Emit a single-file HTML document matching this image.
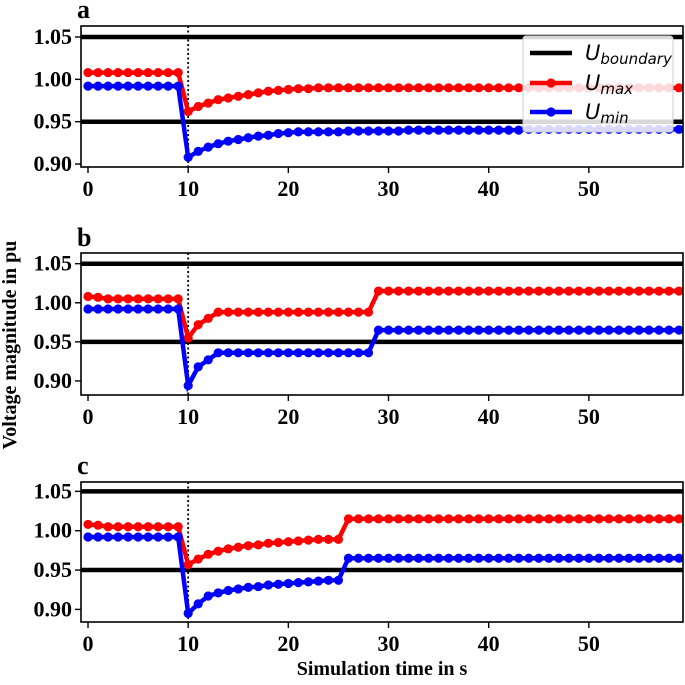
<!DOCTYPE html>
<html><head><meta charset="utf-8"><style>
body{margin:0;background:#fff}
svg text{font-family:"Liberation Serif",serif;font-weight:bold}
</style></head><body>
<svg id="chart" width="685" height="680" viewBox="0 0 685 680" xmlns="http://www.w3.org/2000/svg">
<text x="0" y="0" font-size="20" text-anchor="middle" transform="translate(16,345) rotate(-90)">Voltage magnitude in pu</text>
<text x="382" y="675" font-size="20" text-anchor="middle">Simulation time in s</text>
</svg>
<script>
const xTicks=[0,10,20,30,40,50];
const yTicks=[0.90,0.95,1.00,1.05];
const yTickLabels=["0.90","0.95","1.00","1.05"];
const boundaries=[0.95,1.05];
const eventTime=10;
const panelLabels=["a","b","c"];
const aMax=[1.008,1.008,1.008,1.008,1.008,1.008,1.008,1.008,1.008,1.008,0.962,0.968,0.972,0.976,0.978,0.980,0.982,0.984,0.986,0.987,0.988,0.989,0.989,0.990,0.990,0.990,0.990,0.990,0.990,0.990,0.990,0.990,0.990,0.990,0.990,0.990,0.990,0.990,0.990,0.990,0.990,0.990,0.990,0.990,0.990,0.990,0.990,0.990,0.990,0.990,0.990,0.990,0.990,0.990,0.990,0.990,0.990,0.990,0.990,0.990];
const aMin=[0.992,0.992,0.992,0.992,0.992,0.992,0.992,0.992,0.992,0.992,0.908,0.915,0.920,0.924,0.927,0.929,0.931,0.933,0.934,0.936,0.937,0.938,0.938,0.938,0.938,0.938,0.939,0.939,0.939,0.939,0.939,0.939,0.940,0.940,0.940,0.940,0.940,0.940,0.940,0.940,0.940,0.940,0.940,0.940,0.941,0.941,0.941,0.941,0.941,0.941,0.941,0.941,0.941,0.941,0.941,0.941,0.941,0.941,0.941,0.941];
const bMax=[1.008,1.007,1.005,1.005,1.005,1.005,1.005,1.005,1.005,1.005,0.955,0.972,0.980,0.988,0.988,0.988,0.988,0.988,0.988,0.988,0.988,0.988,0.988,0.988,0.988,0.988,0.988,0.988,0.988,1.015,1.015,1.015,1.015,1.015,1.015,1.015,1.015,1.015,1.015,1.015,1.015,1.015,1.015,1.015,1.015,1.015,1.015,1.015,1.015,1.015,1.015,1.015,1.015,1.015,1.015,1.015,1.015,1.015,1.015,1.015];
const bMin=[0.992,0.992,0.992,0.992,0.992,0.992,0.992,0.992,0.992,0.992,0.894,0.918,0.927,0.936,0.936,0.936,0.936,0.936,0.936,0.936,0.936,0.936,0.936,0.936,0.936,0.936,0.936,0.936,0.936,0.965,0.965,0.965,0.965,0.965,0.965,0.965,0.965,0.965,0.965,0.965,0.965,0.965,0.965,0.965,0.965,0.965,0.965,0.965,0.965,0.965,0.965,0.965,0.965,0.965,0.965,0.965,0.965,0.965,0.965,0.965];
const cMax=[1.008,1.007,1.005,1.005,1.005,1.005,1.005,1.005,1.005,1.005,0.957,0.964,0.970,0.974,0.977,0.979,0.981,0.982,0.984,0.985,0.986,0.987,0.988,0.989,0.989,0.989,1.015,1.015,1.015,1.015,1.015,1.015,1.015,1.015,1.015,1.015,1.015,1.015,1.015,1.015,1.015,1.015,1.015,1.015,1.015,1.015,1.015,1.015,1.015,1.015,1.015,1.015,1.015,1.015,1.015,1.015,1.015,1.015,1.015,1.015];
const cMin=[0.992,0.992,0.992,0.992,0.992,0.992,0.992,0.992,0.992,0.992,0.895,0.907,0.917,0.921,0.924,0.926,0.928,0.929,0.931,0.932,0.933,0.934,0.935,0.936,0.937,0.937,0.965,0.965,0.965,0.965,0.965,0.965,0.965,0.965,0.965,0.965,0.965,0.965,0.965,0.965,0.965,0.965,0.965,0.965,0.965,0.965,0.965,0.965,0.965,0.965,0.965,0.965,0.965,0.965,0.965,0.965,0.965,0.965,0.965,0.965];

const NS="http://www.w3.org/2000/svg";
const svg=document.getElementById('chart');
function mk(tag,attrs,parent){const e=document.createElementNS(NS,tag);for(const k in attrs)e.setAttribute(k,attrs[k]);(parent||svg).appendChild(e);return e;}
const L=81,R=683,xmin=-0.7,xmax=59.4;
const X=v=>L+(v-xmin)/(xmax-xmin)*(R-L);
const panels=[
 {top:26,bot:167,ymin:0.8965,ymax:1.063,mx:aMax,mn:aMin,ly:12},
 {top:253,bot:395,ymin:0.882,ymax:1.0637,mx:bMax,mn:bMin,ly:240},
 {top:482,bot:622,ymin:0.884,ymax:1.0619,mx:cMax,mn:cMin,ly:468}
];
panels.forEach((p,pi)=>{
 const Y=v=>p.bot-(v-p.ymin)/(p.ymax-p.ymin)*(p.bot-p.top);
 const g=mk('g',{});
 
 
 const lab=mk('text',{x:77,y:p.ly+6,'font-size':26},g);lab.textContent=panelLabels[pi];
 
 
 boundaries.forEach(b=>{const l=mk('line',{x1:L,x2:R,y1:Y(b),y2:Y(b),stroke:'#000','stroke-width':4.5},g);
  
  });
 const ev=mk('line',{x1:X(eventTime),x2:X(eventTime),y1:p.top,y2:p.bot,stroke:'#000','stroke-width':1.8,'stroke-dasharray':'2,2.5'},g);
 
 
 [[p.mx,'#ff0000','u-max'],[p.mn,'#0000ff','u-min']].forEach(([arr,col,nm])=>{
  const pts=arr.map((v,i)=>X(i)+','+Y(v)).join(' ');
  const pl=mk('polyline',{points:pts,fill:'none',stroke:col,'stroke-width':4.5},g);
  
  
  arr.forEach((v,i)=>{const c=mk('circle',{cx:X(i),cy:Y(v),r:4.6,fill:col},g);
   
   });
 });
 const fr=mk('rect',{x:L,y:p.top,width:R-L,height:p.bot-p.top,fill:'none',stroke:'#000','stroke-width':1.6},g);
 
 
 xTicks.forEach(t=>{mk('line',{x1:X(t),x2:X(t),y1:p.bot,y2:p.bot+6,stroke:'#000','stroke-width':1.4},g);
  const tx=mk('text',{x:X(t),y:p.bot+29,'font-size':22,'text-anchor':'middle'},g);tx.textContent=t;
  
  });
 yTicks.forEach((t,i)=>{mk('line',{x1:L-6,x2:L,y1:Y(t),y2:Y(t),stroke:'#000','stroke-width':1.4},g);
  const ty=mk('text',{x:L-9,y:Y(t)+7,'font-size':22,'text-anchor':'end'},g);ty.textContent=yTickLabels[i];
  
  });
});
// legend
const lg=mk('g',{});


mk('rect',{x:523,y:36,width:150,height:96,rx:3,fill:'rgba(255,255,255,0.85)',stroke:'#ccc','stroke-width':1},lg);
[['#000','boundary',false,58],['#ff0000','max',true,88],['#0000ff','min',true,117]].forEach(([col,sub,mark,y])=>{
 const e=mk('g',{},lg);
 
 
 mk('line',{x1:530,x2:572,y1:y-5,y2:y-5,stroke:col,'stroke-width':4.5},e);
 if(mark)mk('circle',{cx:551,cy:y-5,r:4.6,fill:col},e);
 const t=mk('text',{x:585,y:y+2,'font-size':21,style:'font-family:"DejaVu Sans",sans-serif;font-weight:normal;font-style:italic'},e);
 t.innerHTML='U<tspan font-size="15" dy="4">'+sub+'</tspan>';
});
</script>
</body></html>
